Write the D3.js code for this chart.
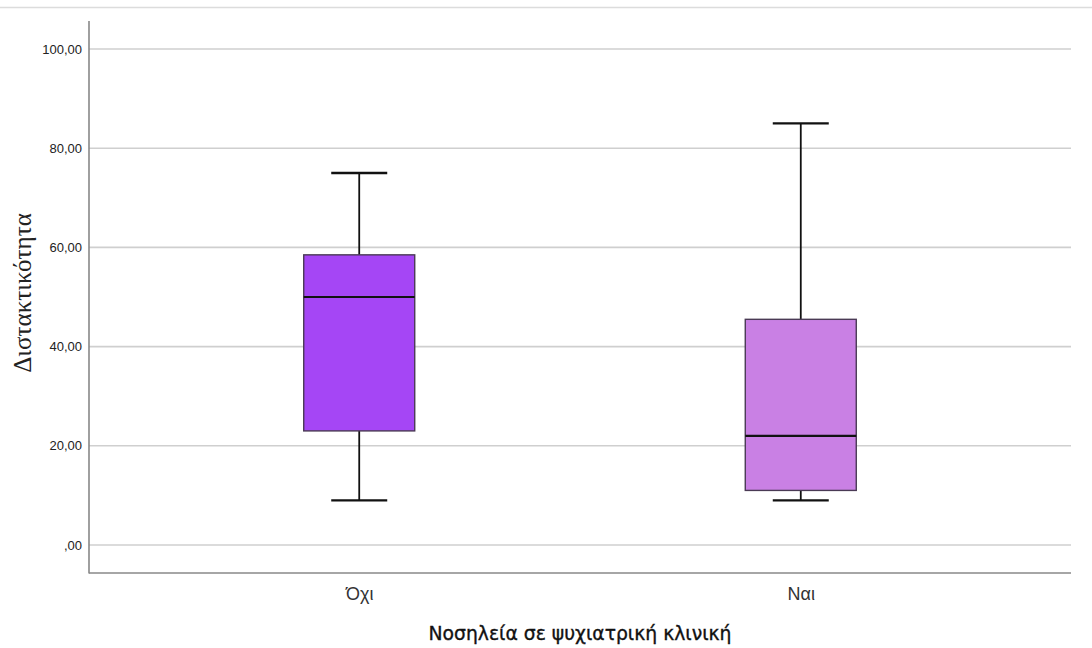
<!DOCTYPE html>
<html><head><meta charset="utf-8">
<script src="https://cdn.jsdelivr.net/npm/d3@7"></script>
<style>body{margin:0;background:#fff}svg{display:block}</style>
</head><body>
<svg id="c" width="1092" height="648"></svg>
<script>
const categories = ["Όχι", "Ναι"];
const whiskerLow = [9, 9];
const q1 = [23, 11];
const median = [50, 22];
const q3 = [58.5, 45.5];
const whiskerHigh = [75, 85];
const colors = ["#a546f5", "#c980e4"];
const yTicks = [0, 20, 40, 60, 80, 100];
const yLabel = "Διστακτικότητα";
const xLabel = "Νοσηλεία σε ψυχιατρική κλινική";

const svg = d3.select("#c");
const L = 89, R = 1071, T = 21, B = 573;
const y = d3.scaleLinear().domain([-5.65, 105.65]).range([B, T]);
const x = d3.scalePoint().domain(categories).range([L, R]).padding(0.612);
const boxW = 111, capW = 56;
const fmt = v => (v === 0 ? "" : String(v)) + ",00";

svg.append("line").attr("x1", 0).attr("x2", 1092).attr("y1", 7.5).attr("y2", 7.5)
  .attr("stroke", "#dcdcdc").attr("stroke-width", 1.5);

// grid
svg.append("g").selectAll("line").data(yTicks).join("line")
  .attr("x1", L).attr("x2", R).attr("y1", d => y(d)).attr("y2", d => y(d))
  .attr("stroke", "#cfcfcf").attr("stroke-width", 1.6);

// y axis
const ya = svg.append("g").attr("transform", `translate(${L},0)`)
  .call(d3.axisLeft(y).tickValues(yTicks).tickSize(0).tickPadding(7).tickFormat(fmt));
ya.select(".domain").remove();
ya.selectAll("text").attr("font-family", "Liberation Sans, Arial, sans-serif").attr("font-size", 13).attr("fill", "#222");

// x axis
const xa = svg.append("g").attr("transform", `translate(0,${B})`)
  .call(d3.axisBottom(x).tickSize(0).tickPadding(14));
xa.select(".domain").remove();
xa.selectAll("text").attr("font-family", "Liberation Sans, Arial, sans-serif").attr("font-size", 18).attr("fill", "#333");

svg.append("line").attr("x1", L).attr("x2", L).attr("y1", T).attr("y2", B + 0.5)
  .attr("stroke", "#888").attr("stroke-width", 1.6);
svg.append("line").attr("x1", L).attr("x2", R).attr("y1", B).attr("y2", B)
  .attr("stroke", "#888").attr("stroke-width", 1.6);

// boxes
const g = svg.append("g").selectAll("g").data(categories).join("g");
g.append("line").attr("x1", d => x(d)).attr("x2", d => x(d))
  .attr("y1", (d, i) => y(whiskerHigh[i])).attr("y2", (d, i) => y(q3[i]))
  .attr("stroke", "#111").attr("stroke-width", 1.8);
g.append("line").attr("x1", d => x(d)).attr("x2", d => x(d))
  .attr("y1", (d, i) => y(whiskerLow[i])).attr("y2", (d, i) => y(q1[i]))
  .attr("stroke", "#111").attr("stroke-width", 1.8);
g.append("line").attr("x1", d => x(d) - capW / 2).attr("x2", d => x(d) + capW / 2)
  .attr("y1", (d, i) => y(whiskerHigh[i])).attr("y2", (d, i) => y(whiskerHigh[i]))
  .attr("stroke", "#111").attr("stroke-width", 2.4);
g.append("line").attr("x1", d => x(d) - capW / 2).attr("x2", d => x(d) + capW / 2)
  .attr("y1", (d, i) => y(whiskerLow[i])).attr("y2", (d, i) => y(whiskerLow[i]))
  .attr("stroke", "#111").attr("stroke-width", 2.4);
g.append("rect").attr("x", d => x(d) - boxW / 2).attr("width", boxW)
  .attr("y", (d, i) => y(q3[i])).attr("height", (d, i) => y(q1[i]) - y(q3[i]))
  .attr("fill", (d, i) => colors[i]).attr("stroke", "#4a3a55").attr("stroke-width", 1.4);
g.append("line").attr("x1", d => x(d) - boxW / 2).attr("x2", d => x(d) + boxW / 2)
  .attr("y1", (d, i) => y(median[i])).attr("y2", (d, i) => y(median[i]))
  .attr("stroke", "#111").attr("stroke-width", 2.2);

// labels
svg.append("text").attr("transform", "translate(31,293) rotate(-90)")
  .attr("text-anchor", "middle").attr("font-family", "Liberation Serif, Times New Roman, serif")
  .attr("font-size", 25).attr("fill", "#222").text(yLabel);
svg.append("text").attr("x", 580).attr("y", 640).attr("text-anchor", "middle")
  .attr("font-family", "DejaVu Sans, sans-serif").attr("font-size", 18.8)
  .attr("fill", "#111").attr("stroke", "#111").attr("stroke-width", 0.35).text(xLabel);
</script>
</body></html>
